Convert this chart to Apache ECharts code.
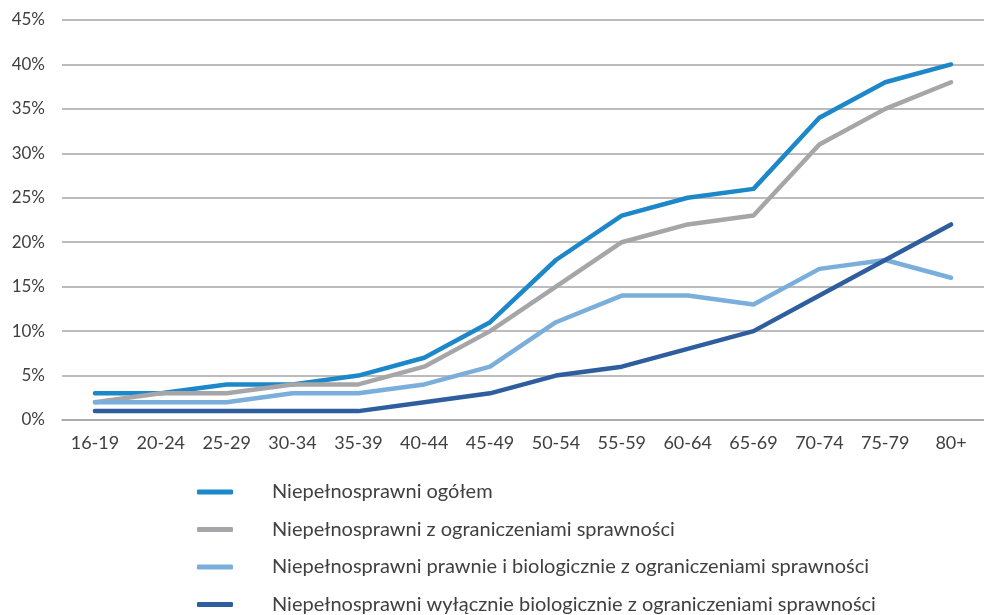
<!DOCTYPE html>
<html>
<head>
<meta charset="utf-8">
<script src="https://cdn.jsdelivr.net/npm/echarts@6/dist/echarts.min.js"></script>
<style>
  html, body { margin: 0; padding: 0; background: #fff; }
  #main { width: 984px; height: 615px; }
</style>
</head>
<body>
<div id="main"></div>
<script>
var categories = ['16-19', '20-24', '25-29', '30-34', '35-39', '40-44', '45-49',
    '50-54', '55-59', '60-64', '65-69', '70-74', '75-79', '80+'];

var seriesNames = [
    'Niepełnosprawni ogółem',
    'Niepełnosprawni z ograniczeniami sprawności',
    'Niepełnosprawni prawnie i biologicznie z ograniczeniami sprawności',
    'Niepełnosprawni wyłącznie biologicznie z ograniczeniami sprawności'
];

var ogolem = [3, 3, 4, 4, 5, 7, 11, 18, 23, 25, 26, 34, 38, 40];
var zOgraniczeniami = [2, 3, 3, 4, 4, 6, 10, 15, 20, 22, 23, 31, 35, 38];
var prawnieIBiologicznie = [2, 2, 2, 3, 3, 4, 6, 11, 14, 14, 13, 17, 18, 16];
var wylacznieBiologicznie = [1, 1, 1, 1, 1, 2, 3, 5, 6, 8, 10, 14, 18, 22];

var colors = ['#1c87c9', '#a6a6a8', '#7aaedb', '#2f5e9e'];
var font = 'Lato';

var myChart = echarts.init(document.getElementById('main'));

function lineSeries(name, data, color) {
    return {
        name: name,
        type: 'line',
        data: data,
        symbol: 'none',
        lineStyle: { width: 4.5, color: color, cap: 'round', join: 'round' },
        itemStyle: { color: color },
        animation: false
    };
}

option = {
    color: colors,
    grid: {
        left: 62,
        top: 20,
        width: 931,
        height: 400
    },
    legend: {
        orient: 'vertical',
        left: 197,
        top: 482,
        height: 150,
        padding: 0,
        itemWidth: 36,
        itemHeight: 5,
        itemGap: 17.5,
        icon: 'roundRect',
        textStyle: {
            fontFamily: font,
            fontSize: 20,
            color: '#404040',
            padding: [0, 0, 0, 34]
        },
        data: seriesNames
    },
    xAxis: {
        type: 'category',
        boundaryGap: true,
        data: categories,
        axisLine: { show: true, lineStyle: { color: '#a6a6a6', width: 1.5 } },
        axisTick: { show: false },
        axisLabel: {
            fontFamily: font,
            fontSize: 18,
            color: '#404040',
            margin: 14,
            interval: 0
        }
    },
    yAxis: {
        type: 'value',
        min: 0,
        max: 45,
        interval: 5,
        axisLine: { show: false },
        axisTick: { show: false },
        splitLine: { lineStyle: { color: '#a6a6a6', width: 1.5 } },
        axisLabel: {
            fontFamily: font,
            fontSize: 17,
            color: '#404040',
            margin: 17,
            formatter: '{value}%'
        }
    },
    series: [
        lineSeries(seriesNames[0], ogolem, colors[0]),
        lineSeries(seriesNames[1], zOgraniczeniami, colors[1]),
        lineSeries(seriesNames[2], prawnieIBiologicznie, colors[2]),
        lineSeries(seriesNames[3], wylacznieBiologicznie, colors[3])
    ]
};
myChart.setOption(option);
window.onresize = myChart.resize;
</script>
</body>
</html>
